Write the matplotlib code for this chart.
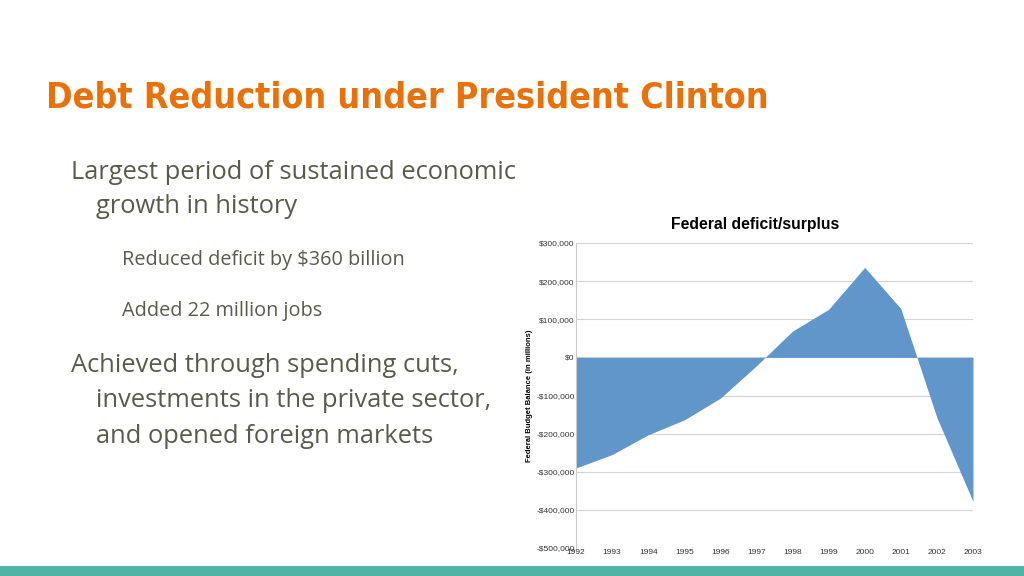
import matplotlib.pyplot as plt
import matplotlib.patches as patches
import matplotlib.ticker as ticker

# DATA
years = [1992, 1993, 1994, 1995, 1996, 1997, 1998, 1999, 2000, 2001, 2002, 2003]
balance = [-290000, -255000, -203000, -164000, -107000, -22000,
           69000, 126000, 236000, 128000, -158000, -378000]
y_ticks = [300000, 200000, 100000, 0, -100000, -200000, -300000, -400000, -500000]

slide_title = 'Debt Reduction under President Clinton'
chart_title = 'Federal deficit/surplus'
y_label = 'Federal Budget Balance (in millions)'

text_color = '#5a5a4c'
orange = '#e8710a'
teal = '#4fb3a6'
fill_color = '#6096c9'

fig = plt.figure(figsize=(10.24, 5.76), dpi=100)
fig.patch.set_facecolor('white')

# slide title (condensed look, shrink to the reference width)
title = fig.text(46 / 1024, 1 - 108 / 576, slide_title, color=orange, fontsize=36,
                 fontweight='bold', fontstretch='condensed',
                 family=['DejaVu Sans'], va='baseline', ha='left')
renderer = fig.canvas.get_renderer()
w = title.get_window_extent(renderer).width
if w > 720:
    title.set_fontsize(36 * 720 / w)

# bullet text
body = ['Open Sans', 'DejaVu Sans']
lines = [
    (71, 179, 'Largest period of sustained economic', 18.4),
    (96, 213, 'growth in history', 18.4),
    (122, 265, 'Reduced deficit by $360 billion', 14.3),
    (122, 316, 'Added 22 million jobs', 14.3),
    (71, 372, 'Achieved through spending cuts,', 18.4),
    (96, 407, 'investments in the private sector,', 18.4),
    (96, 443, 'and opened foreign markets', 18.4),
]
for x, y, s, size in lines:
    fig.text(x / 1024, 1 - y / 576, s, color=text_color, fontsize=size,
             family=body, va='baseline', ha='left')

# bottom band
fig.patches.append(patches.Rectangle((0, 0), 1, 10 / 576, transform=fig.transFigure,
                                     facecolor=teal, edgecolor='none'))

# chart
ax = fig.add_axes([576 / 1024, 28 / 576, 397 / 1024, 305 / 576])
ax.fill_between(years, balance, 0, color=fill_color, linewidth=0)
ax.set_xlim(1992, 2003)
ax.set_ylim(-500000, 300000)
ax.set_xticks(years)
ax.set_yticks(y_ticks)


def money(v, pos):
    v = int(v)
    if v < 0:
        return '-${:,}'.format(-v)
    return '${:,}'.format(v)


ax.yaxis.set_major_formatter(ticker.FuncFormatter(money))
ax.grid(axis='y', color='#d3d3d3', linewidth=0.8)
ax.set_axisbelow(True)
for side in ['top', 'right', 'bottom']:
    ax.spines[side].set_visible(False)
ax.spines['left'].set_color('#cccccc')
ax.tick_params(axis='both', length=0, labelsize=6, colors='#333333',
               labelfontfamily='Liberation Sans')
ax.tick_params(axis='y', pad=1)
ax.tick_params(axis='x', pad=1)
ax.set_ylabel(y_label, fontsize=5.5, fontweight='bold', family='Liberation Sans',
              labelpad=2)
fig.text(755 / 1024, 1 - 229 / 576, chart_title, fontsize=11.3, fontweight='bold',
         family='Liberation Sans', ha='center', va='baseline')

fig.savefig('out.png', dpi=100, facecolor='white')
